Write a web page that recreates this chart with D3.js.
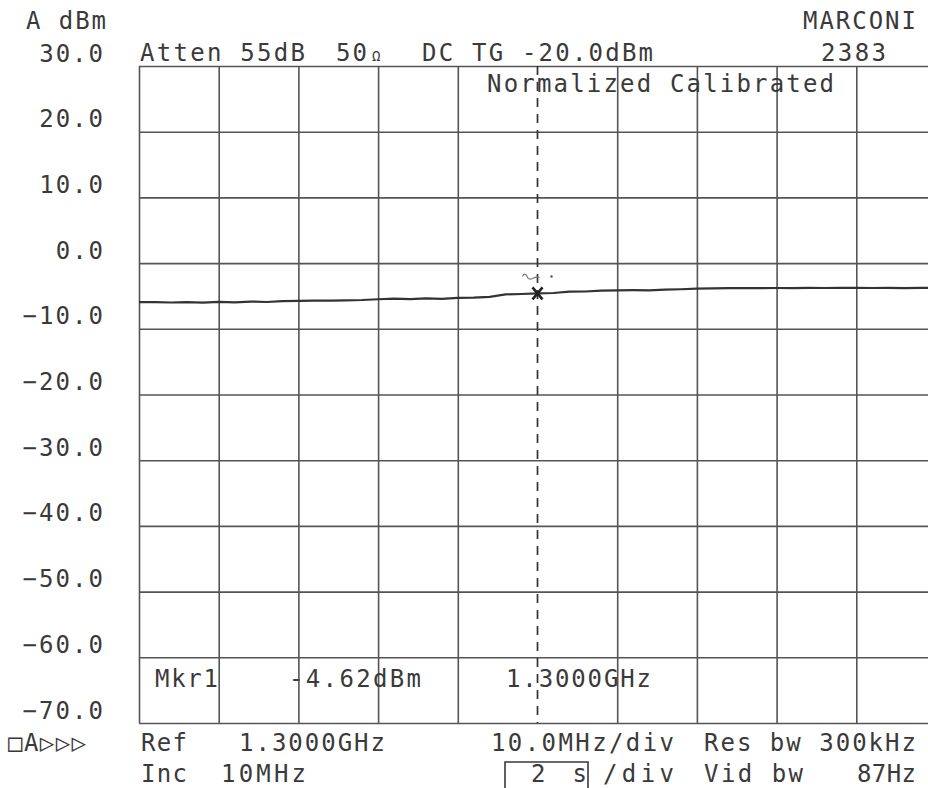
<!DOCTYPE html>
<html><head><meta charset="utf-8">
<script src="https://cdn.jsdelivr.net/npm/d3@7"></script>
<style>
html,body{margin:0;padding:0;background:#fff;}
svg{display:block;}
text{font-family:"DejaVu Sans Mono",monospace;font-size:24px;fill:#3a3a3a;}
</style></head>
<body>
<script>
// ---- data ----
const levelTicks = [30, 20, 10, 0, -10, -20, -30, -40, -50, -60, -70];
const freqTicks = [1250, 1260, 1270, 1280, 1290, 1300, 1310, 1320, 1330, 1340, 1350]; // MHz
const traceFreq = [1250,1252,1254,1256,1258,1260,1262,1264,1266,1268,1270,1272,1274,1276,1278,1280,1282,1284,1286,1288,1290,1292,1294,1296,1298,1300,1302,1304,1306,1308,1310,1312,1314,1316,1318,1320,1322,1324,1326,1328,1330,1332,1334,1336,1338,1340,1342,1344,1346,1348,1350];
const traceLevel = [-5.95,-5.93,-6.00,-5.95,-6.02,-5.90,-5.98,-5.85,-5.92,-5.80,-5.76,-5.72,-5.70,-5.66,-5.62,-5.50,-5.42,-5.48,-5.38,-5.45,-5.30,-5.26,-5.14,-4.76,-4.70,-4.62,-4.55,-4.34,-4.32,-4.20,-4.15,-4.12,-4.14,-4.05,-3.98,-3.90,-3.86,-3.82,-3.80,-3.80,-3.79,-3.80,-3.78,-3.79,-3.78,-3.78,-3.79,-3.78,-3.80,-3.78,-3.78];
const markerFreq = 1300, markerLevel = -4.62;
const headerTexts = ["A dBm", "MARCONI", "2383", "Atten 55dB", "DC TG -20.0dBm", "Normalized Calibrated"];
const footerTexts = ["Mkr1", "-4.62dBm", "1.3000GHz", "\u25A1A\u25B7\u25B7\u25B7", "Ref", "1.3000GHz", "Inc", "10MHz", "10.0MHz/div", "Res bw 300kHz", "2 s", "/div", "Vid bw", "87Hz"];

// ---- layout ----
const W = 928, H = 788;
const pL = 139, pR = 936, pT = 66, pB = 723;

const svg = d3.select("body").append("svg").attr("width", W).attr("height", H);
const x = d3.scaleLinear().domain([1250, 1350]).range([pL, pR]);
const y = d3.scaleLinear().domain([-70, 30]).range([pB, pT]);

const ink = "#3a3a3a";

// grid: horizontal
const gy = svg.append("g").attr("transform", `translate(${pL},0)`)
  .call(d3.axisLeft(y).tickValues(levelTicks).tickSize(-(pR - pL)).tickFormat(""));
gy.select(".domain").remove();
gy.selectAll("line").attr("stroke", "#555").attr("stroke-width", 1.6);

// grid: vertical (center line drawn dashed as marker line)
const gx = svg.append("g").attr("transform", `translate(0,${pB})`)
  .call(d3.axisBottom(x).tickValues(freqTicks.filter(f => f !== markerFreq)).tickSize(-(pB - pT)).tickFormat(""));
gx.select(".domain").remove();
gx.selectAll("line").attr("stroke", "#555").attr("stroke-width", 1.6);

// y labels
const yl = svg.append("g").attr("transform", `translate(${pL},0)`)
  .call(d3.axisLeft(y).tickValues(levelTicks).tickSize(0).tickPadding(0).tickFormat(d => d3.format(".1f")(d)));
yl.select(".domain").remove();
yl.selectAll("text")
  .attr("x", -36).attr("dy", null).attr("y", -5)
  .attr("text-anchor", "end")
  .attr("font-size", 24).attr("font-family", "DejaVu Sans Mono").attr("fill", ink)
  .each(function () { const n = this.textContent.length; d3.select(this).attr("textLength", 16.6 * (n - 1) + 14).attr("lengthAdjust", "spacing"); });

// dashed marker line
svg.append("line")
  .attr("x1", x(markerFreq)).attr("x2", x(markerFreq))
  .attr("y1", pT).attr("y2", pB)
  .attr("stroke", "#333").attr("stroke-width", 1.7).attr("stroke-dasharray", "9,7");

// trace
svg.append("clipPath").attr("id", "clip").append("rect")
  .attr("x", pL).attr("y", pT).attr("width", pR - pL).attr("height", pB - pT);
svg.append("path")
  .datum(traceFreq.map((f, i) => [f, traceLevel[i]]))
  .attr("clip-path", "url(#clip)")
  .attr("fill", "none").attr("stroke", "#333").attr("stroke-width", 2.2)
  .attr("d", d3.line().x(d => x(d[0])).y(d => y(d[1])));

// marker
const mx = x(markerFreq), my = y(markerLevel);
svg.append("path")
  .attr("d", `M${mx - 5},${my - 6}L${mx + 5},${my + 6}M${mx + 5},${my - 6}L${mx - 5},${my + 6}`)
  .attr("stroke", "#222").attr("stroke-width", 2.6).attr("fill", "none");
svg.append("path")
  .attr("d", `M${mx - 15},${my - 17}q2,-4 4,-1q2,5 6,3q4,-2 7,-1`)
  .attr("stroke", "#777").attr("stroke-width", 1.2).attr("fill", "none");
svg.append("circle").attr("cx", mx + 14).attr("cy", my - 17).attr("r", 1.2).attr("fill", "#555");

// text helper
function label(str, x0, x1, base) {
  const t = svg.append("text").attr("x", x0).attr("y", base).text(str);
  if (x1 != null) t.attr("textLength", x1 - x0).attr("lengthAdjust", "spacing");
  return t;
}
label(headerTexts[0], 26, 106, 29);
label(headerTexts[1], 803, 916, 29);
label(headerTexts[2], 821, 886, 61);
label(headerTexts[3], 140, 305, 61);
const om = svg.append("text").attr("x", 336).attr("y", 61);
om.append("tspan").text("50").attr("textLength", 31).attr("lengthAdjust", "spacing");
om.append("tspan").text("\u03A9").attr("font-size", 14).attr("dx", 3);
label(headerTexts[4], 422, 653, 61);
label(headerTexts[5], 487, 834, 92);

label(footerTexts[0], 155, 218, 687);
label(footerTexts[1], 289, 421, 687);
label(footerTexts[2], 506, 651, 687);
label(footerTexts[3], 8, 86, 751);
label(footerTexts[4], 141, 187, 751);
label(footerTexts[5], 239, 385, 751);
label(footerTexts[6], 141, 187, 782);
label(footerTexts[7], 221, 306, 782);
label(footerTexts[8], 491, 674, 751);
label(footerTexts[9], 704, 916, 751);
label(footerTexts[10], 531, 587, 782);
label(footerTexts[11], 603, 674, 782);
label(footerTexts[12], 704, 803, 782);
label(footerTexts[13], 857, 916, 782);

// box around "2 s"
svg.append("path")
  .attr("d", "M505,790V762H588V790")
  .attr("fill", "none").attr("stroke", ink).attr("stroke-width", 1.6);
</script>
</body></html>
